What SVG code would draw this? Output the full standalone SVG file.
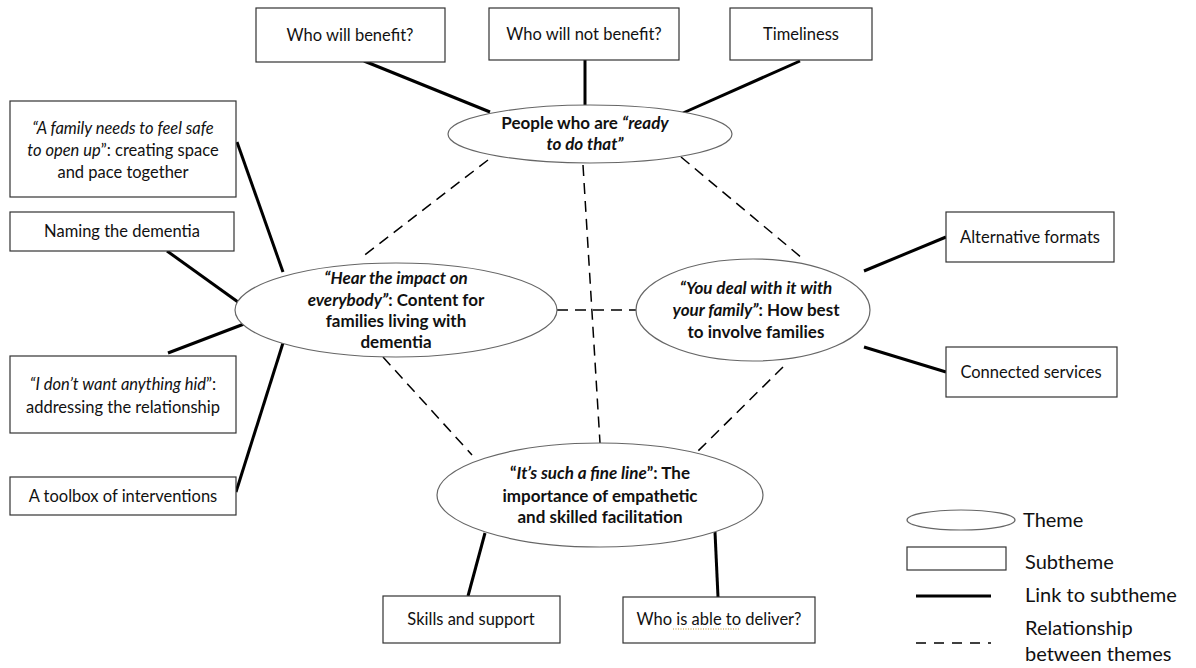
<svg xmlns="http://www.w3.org/2000/svg" width="1196" height="668" viewBox="0 0 1196 668">
<style>
text{font-family:Lato,"Open Sans","Liberation Sans",sans-serif;fill:#111;}
.bx{fill:#fff;stroke:#333;stroke-width:1.2;}
.el{fill:#fff;stroke:#666;stroke-width:1.2;}
.bt{font-size:16.5px;text-anchor:middle;}
.th{font-size:17px;font-weight:bold;text-anchor:middle;}
.i{font-style:italic;}
.solid{stroke:#000;stroke-width:3;fill:none;}
.dash{stroke:#000;stroke-width:1.5;stroke-dasharray:11 7;fill:none;}
.lg{font-size:20px;}
</style>
<g id="connectors">
<line class="solid" x1="364" y1="61" x2="490" y2="112"/>
<line class="solid" x1="585" y1="60" x2="585" y2="105"/>
<line class="solid" x1="800" y1="61" x2="683" y2="113"/>
<line class="solid" x1="237" y1="142" x2="283" y2="272"/>
<line class="solid" x1="167" y1="251" x2="238" y2="302"/>
<line class="solid" x1="168" y1="353" x2="244" y2="324"/>
<line class="solid" x1="236" y1="492" x2="283" y2="343"/>
<line class="solid" x1="864" y1="271" x2="946" y2="237"/>
<line class="solid" x1="864" y1="347" x2="946" y2="372"/>
<line class="solid" x1="468" y1="596" x2="485" y2="533"/>
<line class="solid" x1="718" y1="597" x2="715" y2="532"/>
<line class="dash" x1="488" y1="160" x2="362" y2="257"/>
<line class="dash" x1="583" y1="165" x2="600" y2="443"/>
<line class="dash" x1="681" y1="157" x2="802" y2="258"/>
<line class="dash" x1="557" y1="310" x2="637" y2="310"/>
<line class="dash" x1="383" y1="357" x2="472" y2="455"/>
<line class="dash" x1="783" y1="367" x2="698" y2="451"/>
</g>
<g id="theme-ready">
<ellipse class="el" cx="590" cy="134" rx="142" ry="29"/>
<text class="th" x="585" y="129">People who are <tspan class="i">“ready</tspan></text>
<text class="th i" x="585" y="150">to do that”</text>
</g>
<g id="theme-impact">
<ellipse class="el" cx="396" cy="310" rx="161" ry="47"/>
<text class="th" x="396" y="284"><tspan class="i">“Hear the impact on</tspan></text>
<text class="th" x="396" y="306"><tspan class="i">everybody”</tspan>: Content for</text>
<text class="th" x="396" y="327">families living with</text>
<text class="th" x="396" y="348">dementia</text>
</g>
<g id="theme-family">
<ellipse class="el" cx="753" cy="310" rx="117" ry="51"/>
<text class="th" x="756" y="294"><tspan class="i">“You deal with it with</tspan></text>
<text class="th" x="756" y="316"><tspan class="i">your family”</tspan>: How best</text>
<text class="th" x="756" y="338">to involve families</text>
</g>
<g id="theme-fineline">
<ellipse class="el" cx="600" cy="495" rx="163" ry="52"/>
<text class="th" x="600" y="479">“<tspan class="i">It’s such a fine line</tspan>”: The</text>
<text class="th" x="600" y="502">importance of empathetic</text>
<text class="th" x="600" y="523">and skilled facilitation</text>
</g>
<g id="sub-benefit">
<rect class="bx" x="256" y="8" width="189" height="54"/>
<text class="bt" x="350" y="41">Who will benefit?</text>
</g>
<g id="sub-notbenefit">
<rect class="bx" x="489" y="8" width="190" height="52"/>
<text class="bt" x="584" y="40">Who will not benefit?</text>
</g>
<g id="sub-timeliness">
<rect class="bx" x="730" y="8" width="142" height="52"/>
<text class="bt" x="801" y="40">Timeliness</text>
</g>
<g id="sub-safe">
<rect class="bx" x="10" y="101" width="226" height="96"/>
<text class="bt" x="123" y="134"><tspan class="i">“A family needs to feel safe</tspan></text>
<text class="bt" x="123" y="156"><tspan class="i">to open up</tspan>”: creating space</text>
<text class="bt" x="123" y="178">and pace together</text>
</g>
<g id="sub-naming">
<rect class="bx" x="10" y="212" width="224" height="39"/>
<text class="bt" x="122" y="237">Naming the dementia</text>
</g>
<g id="sub-hid">
<rect class="bx" x="10" y="356" width="226" height="77"/>
<text class="bt" x="123" y="390"><tspan class="i">“I don’t want anything hid</tspan>”:</text>
<text class="bt" x="123" y="413">addressing the relationship</text>
</g>
<g id="sub-toolbox">
<rect class="bx" x="10" y="477" width="226" height="38"/>
<text class="bt" x="123" y="502">A toolbox of interventions</text>
</g>
<g id="sub-formats">
<rect class="bx" x="946" y="212" width="168" height="50"/>
<text class="bt" x="1030" y="243">Alternative formats</text>
</g>
<g id="sub-services">
<rect class="bx" x="946" y="347" width="171" height="50"/>
<text class="bt" x="1031" y="378">Connected services</text>
</g>
<g id="sub-skills">
<rect class="bx" x="383" y="596" width="177" height="47"/>
<text class="bt" x="471" y="625">Skills and support</text>
</g>
<g id="sub-deliver">
<rect class="bx" x="623" y="597" width="192" height="46"/>
<text class="bt" x="719" y="625">Who is able to deliver?</text>
<line x1="673" y1="629" x2="740" y2="629" stroke="#c8962a" stroke-width="1" stroke-dasharray="1 1.5"/>
</g>
<g id="legend">
<ellipse class="el" cx="961" cy="520" rx="54" ry="10"/>
<text class="lg" x="1023" y="527">Theme</text>
<rect class="bx" x="907" y="547" width="99" height="23"/>
<text class="lg" x="1025" y="569">Subtheme</text>
<line class="solid" x1="916" y1="596" x2="991" y2="596"/>
<text class="lg" x="1025" y="602">Link to subtheme</text>
<line class="dash" x1="916" y1="643" x2="991" y2="643" style="stroke-dasharray:10 8"/>
<text class="lg" x="1025" y="635">Relationship</text>
<text class="lg" x="1025" y="661">between themes</text>
</g>
</svg>
